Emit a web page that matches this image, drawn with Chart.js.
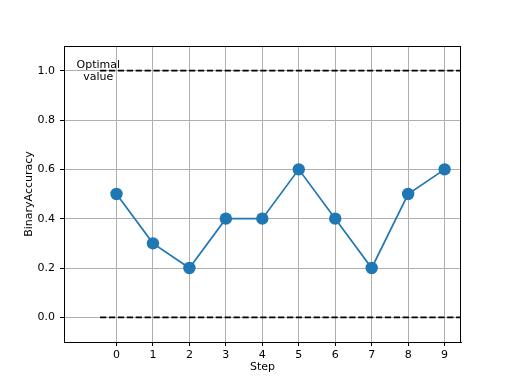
<!DOCTYPE html>
<html>
<head>
<meta charset="utf-8">
<script src="https://cdn.jsdelivr.net/npm/chart.js@4"></script>
<style>
html,body{margin:0;padding:0;background:#fff;}
canvas{display:block;}
</style>
</head>
<body>
<canvas id="c" width="512" height="384"></canvas>
<script>
const steps = [0,1,2,3,4,5,6,7,8,9];
const accuracy = [0.5,0.3,0.2,0.4,0.4,0.6,0.4,0.2,0.5,0.6];
const yTicks = [0.0,0.2,0.4,0.6,0.8,1.0];
const optimalValue = 1.0;
const baselineValue = 0.0;
const refLineX = [-0.45, 9.45];
const annotationText = ['Optimal','value'];
const annotationPos = {x:-0.5, y:1.0};
const xRange = [-1.44, 9.45];
const yRange = [-0.1, 1.1];

const FONT = {family:'DejaVu Sans', size:11};

const framePlugin = {
  id:'frame',
  afterDraw(chart){
    const {ctx, chartArea:a, scales} = chart;
    ctx.save();
    ctx.strokeStyle = '#000';
    ctx.lineWidth = 1;
    ctx.strokeRect(Math.round(a.left)+0.5, Math.round(a.top)+0.5, Math.round(a.right-a.left)-1, Math.round(a.bottom-a.top));
    ctx.fillStyle = '#000';
    ctx.font = '11px "DejaVu Sans"';
    ctx.textAlign = 'center';
    ctx.textBaseline = 'middle';
    const px = scales.x.getPixelForValue(annotationPos.x);
    const py = scales.y.getPixelForValue(annotationPos.y);
    const lh = 12;
    annotationText.forEach((t,i)=>{
      ctx.fillText(t, px, py + (i - (annotationText.length-1)/2)*lh);
    });
    ctx.restore();
  }
};

new Chart(document.getElementById('c'), {
  type:'scatter',
  data:{
    datasets:[
      {
        data: refLineX.map(x=>({x, y:optimalValue})),
        showLine:true, borderColor:'#000', borderWidth:1.7,
        borderDash:[6.2,2.7], pointRadius:0, order:2
      },
      {
        data: refLineX.map(x=>({x, y:baselineValue})),
        showLine:true, borderColor:'#000', borderWidth:1.7,
        borderDash:[6.2,2.7], pointRadius:0, order:2
      },
      {
        data: steps.map((s,i)=>({x:s, y:accuracy[i]})),
        showLine:true, borderColor:'#1f77b4', borderWidth:1.7,
        backgroundColor:'#1f77b4', pointBackgroundColor:'#1f77b4',
        pointBorderColor:'#1f77b4', pointRadius:6.2, pointBorderWidth:0,
        order:1
      }
    ]
  },
  options:{
    responsive:false,
    animation:false,
    layout:{padding:{top:46,right:51,left:0,bottom:0}},
    plugins:{legend:{display:false}, tooltip:{enabled:false}},
    scales:{
      x:{
        type:'linear', min:xRange[0], max:xRange[1],
        afterBuildTicks(s){ s.ticks = steps.map(v=>({value:v})); },
        afterFit(s){ s.height = 42; },
        grid:{color:'#b0b0b0', lineWidth:1, tickLength:4, tickColor:'#000', drawOnChartArea:true},
        border:{display:true, color:'#000', width:1},
        ticks:{color:'#000', font:FONT, padding:3, maxRotation:0, autoSkip:false,
          callback:v=>String(v)},
        title:{display:true, text:'Step', color:'#000', font:FONT, padding:{top:0,bottom:10}}
      },
      y:{
        type:'linear', min:yRange[0], max:yRange[1],
        afterBuildTicks(s){ s.ticks = yTicks.map(v=>({value:v})); },
        afterFit(s){ s.width = 64; },
        grid:{color:'#b0b0b0', lineWidth:1, tickLength:4, tickColor:'#000'},
        border:{display:true, color:'#000', width:1},
        ticks:{color:'#000', font:FONT, padding:5, autoSkip:false,
          callback:v=>Number(v).toFixed(1)},
        title:{display:true, text:'BinaryAccuracy', color:'#000', font:FONT, padding:{top:23,bottom:0}}
      }
    }
  },
  plugins:[framePlugin]
});
</script>
</body>
</html>
